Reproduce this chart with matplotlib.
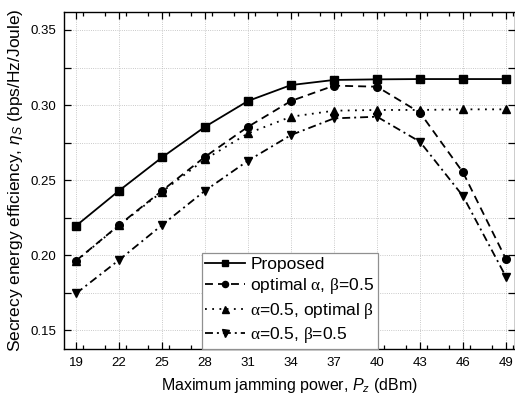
import matplotlib
matplotlib.use("Agg")
import matplotlib.pyplot as plt
from matplotlib.ticker import MultipleLocator, FixedLocator, FormatStrFormatter

plt.rcParams['font.family'] = ['Liberation Sans', 'DejaVu Sans']
plt.rcParams['mathtext.fontset'] = 'custom'
plt.rcParams['mathtext.it'] = 'Liberation Sans:italic'
plt.rcParams['mathtext.rm'] = 'Liberation Serif'

x = [19, 22, 25, 28, 31, 34, 37, 40, 43, 46, 49]
proposed = [0.2195, 0.2429, 0.2651, 0.2855, 0.3027, 0.3133, 0.3167, 0.3171, 0.3173, 0.3173, 0.3173]
opt_alpha = [0.1962, 0.2200, 0.2429, 0.2655, 0.2855, 0.3027, 0.3129, 0.3122, 0.2949, 0.2551, 0.1973]
opt_beta = [0.1960, 0.2198, 0.2422, 0.2638, 0.2811, 0.2922, 0.2962, 0.2967, 0.2967, 0.2971, 0.2971]
fixed = [0.1744, 0.1967, 0.2200, 0.2429, 0.2629, 0.2800, 0.2911, 0.2922, 0.2755, 0.2393, 0.1855]
labels = ['Proposed',
          r'optimal $\mathrm{\alpha}$, $\mathrm{\beta}$=0.5',
          r'$\mathrm{\alpha}$=0.5, optimal $\mathrm{\beta}$',
          r'$\mathrm{\alpha}$=0.5, $\mathrm{\beta}$=0.5']
xticks = [19, 22, 25, 28, 31, 34, 37, 40, 43, 46, 49]

fig = plt.figure(figsize=(5.15, 4.01), dpi=100)
ax = fig.add_axes([0.1249, 0.1309, 0.8751, 0.8392])

lw = 1.3
ax.plot(x, proposed, color='black', lw=lw, ls='-', marker='s', ms=5.3, label=labels[0])
ax.plot(x, opt_alpha, color='black', lw=lw, ls=(0, (4.4, 2.8)), marker='o', ms=5.5, label=labels[1])
ax.plot(x, opt_beta, color='black', lw=lw, ls=(0, (1, 3)), marker='^', ms=6.3, label=labels[2])
ax.plot(x, fixed, color='black', lw=lw, ls=(0, (4.4, 2.2, 1.1, 2.2)), marker='v', ms=6.3, label=labels[3])

ax.set_xlim(18.18, 49.63)
ax.set_ylim(0.1377, 0.362)
ax.xaxis.set_major_locator(FixedLocator(xticks))
ax.xaxis.set_minor_locator(MultipleLocator(1.5))
ax.yaxis.set_major_locator(MultipleLocator(0.05))
ax.yaxis.set_minor_locator(MultipleLocator(0.025))
ax.set_xticklabels([str(v) for v in xticks])
ax.yaxis.set_major_formatter(FormatStrFormatter('%.2f'))

ax.tick_params(which='both', direction='in', top=True, right=True, labelsize=9.5, colors='black')
ax.tick_params(which='major', length=5, width=0.9)
ax.tick_params(axis='x', which='major', pad=6)
ax.tick_params(axis='y', which='major', pad=5.5)
ax.tick_params(which='minor', length=2.8, width=0.9)
ax.tick_params(axis='y', which='minor', length=5)

ax.grid(True, which='major', ls=':', lw=0.6, color='#b8b8b8')
ax.grid(True, which='minor', axis='y', ls=':', lw=0.6, color='#b8b8b8')
ax.set_axisbelow(True)

for s in ax.spines.values():
    s.set_linewidth(1.0)

ax.set_xlabel('Maximum jamming power, $P_z$ (dBm)', fontsize=11.5, labelpad=5)
ax.set_ylabel('Secrecy energy efficiency, $\\eta_S$ (bps/Hz/Joule)', fontsize=12.5, labelpad=4)

leg = ax.legend(loc='lower center', bbox_to_anchor=(0.5, 0.0), fontsize=12.5,
                fancybox=False, edgecolor='#909090', framealpha=1,
                borderpad=0.2, labelspacing=0.25, handlelength=2.3, handletextpad=0.3,
                borderaxespad=0.0, markerscale=0.8)
leg.get_frame().set_linewidth(0.9)

fig.savefig('out.png', dpi=100)
